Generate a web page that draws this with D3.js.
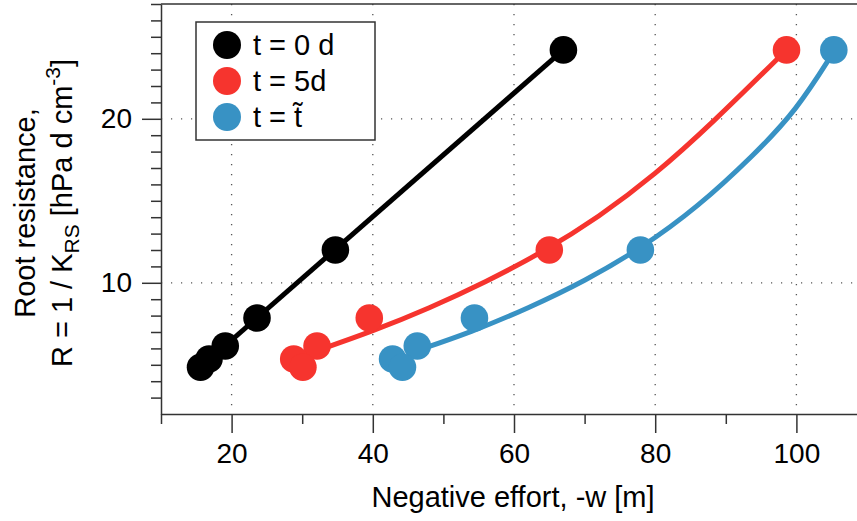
<!DOCTYPE html>
<html>
<head>
<meta charset="utf-8">
<script src="https://cdn.jsdelivr.net/npm/d3@7"></script>
<style>
  body { margin: 0; background: #fff; }
  text { font-family: "Liberation Sans", Arial, Helvetica, sans-serif; fill: #000; }
</style>
</head>
<body>
<div id="chart"></div>
<script>
// root resistance, same six levels for every series
let resistance = [24.2, 12.0, 7.85, 6.15, 5.35, 4.85];
// negative effort -w for each series
let effort0 = [67.0, 34.7, 23.6, 19.1, 16.8, 15.6];
let effort5 = [98.6, 65.0, 39.5, 32.1, 28.8, 30.1];
let effortT = [105.3, 77.9, 54.4, 46.3, 42.8, 44.2];

// fitted lines
let fit0W = [15.6, 67.0];
let fit0R = [4.85, 24.2];
let fit5W = [32, 40, 48, 56, 64, 72, 80, 88, 98.6];
let fit5R = [5.85, 7.05, 8.45, 10.05, 11.85, 14.0, 16.6, 19.7, 24.2];
let fitTW = [45.8, 54, 62, 70, 78, 86, 94, 100, 105.3];
let fitTR = [5.8, 7.0, 8.45, 10.1, 12.1, 14.6, 17.8, 20.5, 24.1];

let legendLabels = ["t = 0 d", "t = 5d", "t = t\u0303"];
let colors = ["#000000", "#f6342e", "#3892c4"];
let xTicks = [20, 40, 60, 80, 100];
let xMinor = [10, 30, 50, 70, 90];
let yTicks = [10, 20];

let margin = {top: 4, right: 0, bottom: 107, left: 161},
    width = 706,
    height = 521 - margin.top - margin.bottom;

let svg = d3.select("#chart").append("svg")
    .attr("width", 857)
    .attr("height", 521);

let g = svg.append("g")
    .attr("transform", "translate(" + margin.left + "," + margin.top + ")");

let x = d3.scaleLinear().domain([10, 110]).range([0, width]);
let y = d3.scaleLinear().domain([2, 27]).range([height, 0]);

// dotted grid
let grid = g.append("g")
    .attr("stroke", "#555")
    .attr("stroke-width", 1.3)
    .attr("stroke-dasharray", "1.2,8.8");
grid.selectAll(".gx")
    .data(xTicks)
    .join("line")
    .attr("x1", d => x(d)).attr("x2", d => x(d))
    .attr("y1", 0).attr("y2", height);
grid.selectAll(".gy")
    .data(yTicks)
    .join("line")
    .attr("x1", 0).attr("x2", width)
    .attr("y1", d => y(d)).attr("y2", d => y(d));

// axes
let yMinor = d3.range(3, 28).filter(v => yTicks.indexOf(v) < 0);

g.append("g")
    .attr("transform", "translate(0," + height + ")")
    .call(d3.axisBottom(x).tickValues(xMinor).tickSize(10).tickSizeOuter(0).tickFormat(""))
    .call(a => a.select(".domain").remove());
g.append("g")
    .attr("class", "xaxis")
    .attr("transform", "translate(0," + height + ")")
    .call(d3.axisBottom(x).tickValues(xTicks).tickSize(19).tickSizeOuter(0).tickPadding(10));

g.append("g")
    .call(d3.axisLeft(y).tickValues(yMinor).tickSize(10).tickSizeOuter(0).tickFormat(""))
    .call(a => a.select(".domain").remove());
g.append("g")
    .attr("class", "yaxis")
    .call(d3.axisLeft(y).tickValues(yTicks).tickSize(19).tickSizeOuter(0).tickPadding(10));

g.selectAll(".tick line, .domain")
    .attr("stroke", "#333")
    .attr("stroke-width", 1.5);
g.selectAll(".tick text")
    .style("font-size", "28px")
    .style("font-family", "'Liberation Sans', Arial, sans-serif")
    .attr("fill", "#000");

// top frame line
g.append("line")
    .attr("x1", 0).attr("x2", width)
    .attr("y1", 0).attr("y2", 0)
    .attr("stroke", "#333")
    .attr("stroke-width", 1.5);

// fitted lines
let fits = [
    d3.zip(fit0W, fit0R),
    d3.zip(fit5W, fit5R),
    d3.zip(fitTW, fitTR)
];
let line = d3.line()
    .x(d => x(d[0]))
    .y(d => y(d[1]))
    .curve(d3.curveBasis);

g.selectAll(".fit")
    .data(fits)
    .join("path")
    .attr("class", "fit")
    .attr("d", line)
    .attr("fill", "none")
    .attr("stroke", (d, i) => colors[i])
    .attr("stroke-width", 5);

// points
let series = [effort0, effort5, effortT];
series.forEach(function(ws, i){
    g.selectAll(".pt" + i)
        .data(d3.zip(ws, resistance))
        .join("circle")
        .attr("class", "pt" + i)
        .attr("cx", d => x(d[0]))
        .attr("cy", d => y(d[1]))
        .attr("r", 13.8)
        .attr("fill", colors[i]);
});

// legend
let legend = svg.append("g");
legend.append("rect")
    .attr("x", 196).attr("y", 22)
    .attr("width", 179).attr("height", 118)
    .attr("fill", "#fff")
    .attr("stroke", "#333")
    .attr("stroke-width", 1.5);
legend.selectAll("circle")
    .data(legendLabels)
    .join("circle")
    .attr("cx", 227)
    .attr("cy", (d, i) => 45 + i * 36)
    .attr("r", 14)
    .attr("fill", (d, i) => colors[i]);
legend.selectAll("text")
    .data(legendLabels)
    .join("text")
    .attr("x", 253)
    .attr("y", (d, i) => 45 + i * 36)
    .attr("dy", "0.35em")
    .style("font-size", "29px")
    .text(d => d);

// axis titles
svg.append("text")
    .attr("x", 513)
    .attr("y", 507)
    .attr("text-anchor", "middle")
    .style("font-size", "29px")
    .text("Negative effort, -w [m]");

let yt = svg.append("g")
    .attr("transform", "translate(35,213) rotate(-90)");
yt.append("text")
    .attr("text-anchor", "middle")
    .style("font-size", "29px")
    .text("Root resistance,");
let t2 = yt.append("text")
    .attr("y", 37)
    .attr("text-anchor", "middle")
    .style("font-size", "29px");
t2.append("tspan").text("R = 1 / K");
t2.append("tspan").attr("dy", 7).style("font-size", "21px").text("RS");
t2.append("tspan").attr("dy", -7).text(" [hPa d cm");
t2.append("tspan").attr("dy", -12).style("font-size", "21px").text("-3");
t2.append("tspan").attr("dy", 12).text("]");
</script>
</body>
</html>
